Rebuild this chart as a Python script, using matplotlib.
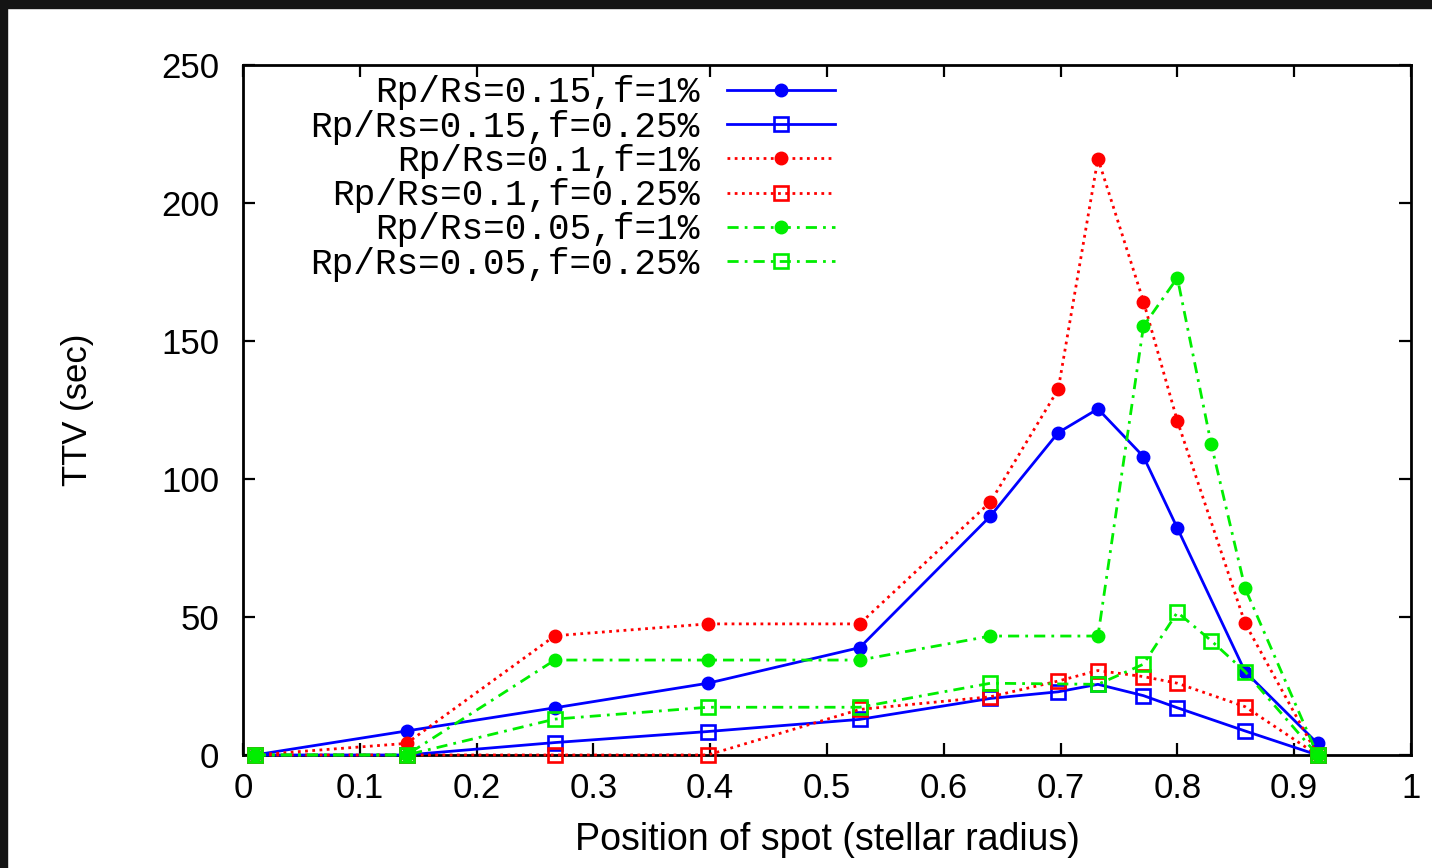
import matplotlib
matplotlib.use('Agg')
import matplotlib.pyplot as plt
from matplotlib.patches import Rectangle
import numpy as np

# spot positions (stellar radius) and TTV values (sec); nan = no point at that position
spot_pos = [0.01, 0.14, 0.267, 0.398, 0.528, 0.64, 0.698, 0.732, 0.771, 0.80, 0.829, 0.858, 0.92]
nan = np.nan

ttv_015_f1 = [0, 8.7, 17.1, 26.0, 38.9, 86.6, 116.8, 125.4, 108.1, 82.2, nan, 30.2, 4.2]
ttv_015_f025 = [0, 0, 4.5, 8.5, 12.9, 20.5, 22.9, 25.6, 21.5, 17.1, nan, 8.7, 0]
ttv_010_f1 = [0, 4.2, 43.2, 47.5, 47.5, 91.7, 132.5, 216.1, 164.3, 121.0, nan, 47.7, 0]
ttv_010_f025 = [0, 0, 0, 0, 16.5, 21.1, 26.8, 30.6, 28.4, 26.0, nan, 17.5, 0]
ttv_005_f1 = [0, 0, 34.4, 34.4, 34.4, 43.1, nan, 43.1, 155.4, 172.9, 112.6, 60.4, 0]
ttv_005_f025 = [0, 0, 13.0, 17.3, 17.3, 26.0, nan, 25.6, 32.9, 51.7, 41.4, 30.2, 0]

labels = ['Rp/Rs=0.15,f=1%', 'Rp/Rs=0.15,f=0.25%',
          'Rp/Rs=0.1,f=1%', 'Rp/Rs=0.1,f=0.25%',
          'Rp/Rs=0.05,f=1%', 'Rp/Rs=0.05,f=0.25%']
series = [ttv_015_f1, ttv_015_f025, ttv_010_f1, ttv_010_f025, ttv_005_f1, ttv_005_f025]

colors = ['#0000ff', '#0000ff', '#ff0000', '#ff0000', '#00ee00', '#00ee00']
styles = ['-', '-', (0, (1, 1.6)), (0, (1, 1.6)), (0, (4, 2.2, 1, 2.2)), (0, (4, 2.2, 1, 2.2))]
markers = ['o', 's', 'o', 's', 'o', 's']

plt.rcParams['font.family'] = ['Liberation Sans', 'DejaVu Sans']

fig = plt.figure(figsize=(14.32, 8.68), dpi=100)
ax = fig.add_axes([0.1697, 0.1302, 0.8156, 0.7949])

for y, lab, c, ls, m in zip(series, labels, colors, styles, markers):
    x = np.array(spot_pos)
    y = np.array(y, dtype=float)
    ok = ~np.isnan(y)
    if m == 'o':
        ax.plot(x[ok], y[ok], color=c, linestyle=ls, linewidth=2, marker='o',
                markersize=9, label=lab, clip_on=False)
    else:
        ax.plot(x[ok], y[ok], color=c, linestyle=ls, linewidth=2, marker='s',
                markersize=10.5, markerfacecolor='none', markeredgewidth=1.9,
                markeredgecolor=c, label=lab, clip_on=False)

ax.set_xlim(0, 1)
ax.set_ylim(0, 250)
ax.set_xticks(np.arange(0, 1.01, 0.1))
ax.set_xticklabels(['0', '0.1', '0.2', '0.3', '0.4', '0.5', '0.6', '0.7', '0.8', '0.9', '1'])
ax.set_yticks([0, 50, 100, 150, 200, 250])

ax.tick_params(direction='in', length=8.5, width=1.6, labelsize=25,
               top=True, right=True)
ax.tick_params(axis='x', pad=12)
ax.tick_params(axis='y', pad=17)
for sp in ax.spines.values():
    sp.set_linewidth(2)
    sp.set_zorder(0.5)

ax.set_xlabel('Position of spot (stellar radius)', fontsize=27)
ax.set_ylabel('TTV (sec)', fontsize=25)
ax.xaxis.set_label_coords(0.5, -0.123)
ax.xaxis.label.set_va('center')
ax.yaxis.set_label_coords(-0.142, 0.5)
ax.yaxis.label.set_va('center')

leg = ax.legend(loc='upper right', bbox_to_anchor=(0.507, 0.985), markerfirst=False,
                frameon=False, borderpad=0, borderaxespad=0, handlelength=3.0,
                handletextpad=0.75, labelspacing=-0.02,
                prop={'family': 'Liberation Mono', 'size': 26})

# dark frame along the top and left edges
fig.add_artist(Rectangle((0, 1 - 8 / 868), 1, 8 / 868, transform=fig.transFigure,
                         color='#141414', zorder=10))
fig.add_artist(Rectangle((0, 0), 7 / 1432, 1, transform=fig.transFigure,
                         color='#141414', zorder=10))

fig.savefig('out.png', dpi=100)
